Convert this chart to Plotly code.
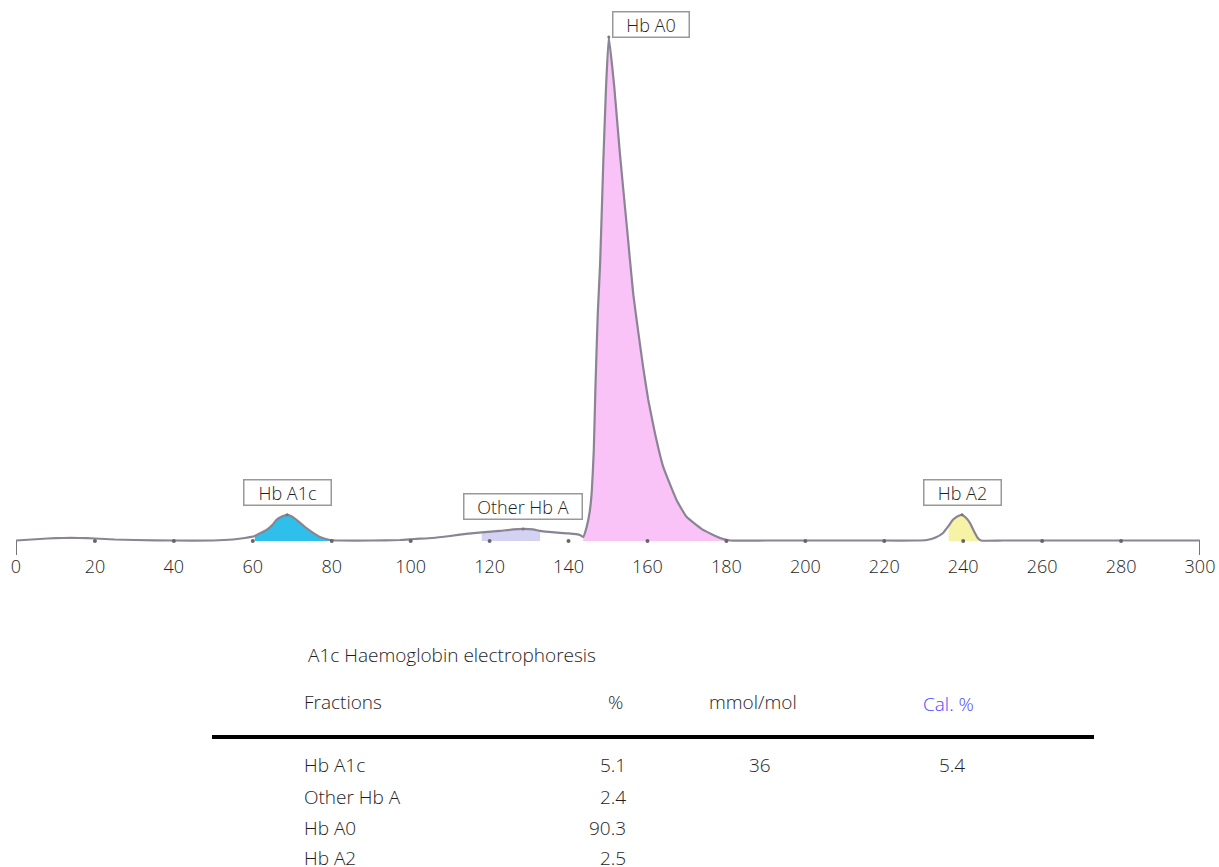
import plotly.graph_objects as go

# ---------------- data ----------------
# electropherogram trace (migration position, relative absorbance with Hb A0 peak = 100)
trace_x = [0, 4, 8, 12, 16, 20, 25, 30, 40, 50, 55, 58, 60.5, 62, 63.5, 65, 66, 67.5, 68.7, 70, 72, 73.5, 75.3, 77, 79.6,
           82, 90, 97.3, 101, 105.6, 110, 114, 118, 122.6, 126, 128.5, 131, 132.8, 135, 137.8, 140, 142.9,
           143.7, 144.6, 145.4, 145.9, 146.4, 146.8, 147.4, 148.0, 148.8, 149.5, 150.2, 151.6, 153.0, 154.7, 156.4,
           157.7, 158.9, 160.2, 161.9, 164.0, 167.4, 169.9, 174.1, 178.4, 181.0,
           190, 200, 210, 220, 228, 230.8, 233, 234.9, 236.3, 237.4, 238.6, 239.7, 240.7, 241.7, 242.7, 243.7, 244.5,
           250, 260, 270, 280, 290, 300]
trace_y = [0.1, 0.3, 0.5, 0.6, 0.6, 0.5, 0.3, 0.2, 0.1, 0.1, 0.3, 0.6, 1.0, 1.6, 2.2, 3.2, 4.2, 4.9, 5.2, 4.8, 3.6, 2.6, 1.6, 0.8, 0.2,
           0.1, 0.1, 0.2, 0.4, 0.6, 1.0, 1.4, 1.7, 2.0, 2.3, 2.4, 2.3, 2.0, 1.8, 1.6, 1.5, 1.2,
           0.8, 2.8, 6.0, 10.0, 18.0, 30.0, 45.0, 55.0, 75.0, 90.0, 100.0, 90.0, 77.0, 63.0, 49.0,
           41.3, 34.5, 28.0, 21.4, 14.7, 8.1, 4.8, 2.2, 0.6, 0.1,
           0.1, 0.1, 0.1, 0.1, 0.1, 0.2, 0.7, 1.6, 3.0, 4.2, 4.9, 5.2, 4.6, 3.6, 2.0, 0.6, 0.1,
           0.1, 0.1, 0.1, 0.1, 0.1, 0.1]

fractions = ["Hb A1c", "Other Hb A", "Hb A0", "Hb A2"]
frac_start = [60.5, 118.0, 143.7, 236.3]
frac_end = [79.6, 132.8, 181.0, 244.5]
frac_peak_x = [68.7, 128.5, 150.2, 239.7]
frac_peak_y = [5.2, 2.4, 100.0, 5.2]
frac_fill = ["#2ec0ea", "#d4d2f2", "#f9c3f7", "#f6f3a6"]

frac_percent = ["5.1", "2.4", "90.3", "2.5"]
frac_mmol = ["36", "", "", ""]
frac_cal = ["5.4", "", "", ""]

tick_vals = list(range(0, 301, 20))
x_range = [0, 300]

# ---------------- figure ----------------
W, H = 1219, 867
ML, MR, MT, MB = 16, 19, 10, 321
PW, PH = W - ML - MR, H - MT - MB
FONT = "Open Sans, Noto Sans, sans-serif"
TXT = "#1e1e1e"

def px_x(px):
    return (px - ML) / PW

def px_y(py):
    return (H - MB - py) / PH

fig = go.Figure()

LINE_SHAPE = dict(shape="spline", smoothing=0.4)

# filled fractions
for name, s, e, col in zip(fractions, frac_start, frac_end, frac_fill):
    xs = [x for x in trace_x if s <= x <= e]
    ys = [y for x, y in zip(trace_x, trace_y) if s <= x <= e]
    fig.add_trace(go.Scatter(x=xs, y=ys, mode="lines", fill="tozeroy", fillcolor=col,
                             line=dict(width=0, **LINE_SHAPE), hoverinfo="skip", showlegend=False))

# full trace
fig.add_trace(go.Scatter(x=trace_x, y=trace_y, mode="lines",
                         line=dict(color="#8a8494", width=2.2, **LINE_SHAPE),
                         hoverinfo="skip", showlegend=False))

# small tick dots on baseline
fig.add_trace(go.Scatter(x=tick_vals[1:-1], y=[0] * (len(tick_vals) - 2), mode="markers",
                         marker=dict(color="#666666", size=4), hoverinfo="skip", showlegend=False))

# peak label dots
fig.add_trace(go.Scatter(x=frac_peak_x, y=frac_peak_y, mode="markers",
                         marker=dict(color="#777777", size=3), hoverinfo="skip", showlegend=False,
                         cliponaxis=False))

# peak labels (box widths in px)
label_w = [84, 115, 73, 74]
for name, px_, py_, lw in zip(fractions, frac_peak_x, frac_peak_y, label_w):
    common = dict(x=px_, y=py_, text=name, showarrow=False, yanchor="bottom",
                  font=dict(family=FONT, size=18, color=TXT, weight=300),
                  bgcolor="white", bordercolor="#999999", borderwidth=1.5, borderpad=1,
                  width=lw, height=22, align="center")
    if name == "Hb A0":
        fig.add_annotation(xanchor="left", xshift=3, yshift=-1, **common)
    else:
        fig.add_annotation(xanchor="center", yshift=9, **common)

# end ticks of the axis
base_paper = px_y(541)
for xv in (x_range[0], x_range[1]):
    fig.add_shape(type="line", xref="x", yref="paper", x0=xv, x1=xv, y0=base_paper, y1=px_y(555),
                  line=dict(color="#777777", width=2))

# ---------------- table ----------------
def txt(text, x, y, anchor="left", color=TXT, size=19):
    fig.add_annotation(xref="paper", yref="paper", x=px_x(x), y=px_y(y), text=text, showarrow=False,
                       xanchor=anchor, yanchor="middle",
                       font=dict(family=FONT, size=size, color=color, weight=300))

txt("A1c Haemoglobin electrophoresis", 306, 655)
txt("Fractions", 302, 702)
txt("%", 615, 702, "center")
txt("mmol/mol", 753, 702, "center")
txt("Cal. %", 948, 704, "center", color="#4848ff")

fig.add_shape(type="line", xref="paper", yref="paper", x0=px_x(212), x1=px_x(1094),
              y0=px_y(737), y1=px_y(737), line=dict(color="black", width=4))

row_y = [765, 797, 828, 858]
for name, pc, mm, cal, ry in zip(fractions, frac_percent, frac_mmol, frac_cal, row_y):
    txt(name, 302, ry)
    txt(pc, 628, ry, "right")
    if mm:
        txt(mm, 760, ry, "center")
    if cal:
        txt(cal, 952, ry, "center")

fig.update_layout(
    width=W, height=H,
    margin=dict(l=ML, r=MR, t=MT, b=MB, autoexpand=False),
    paper_bgcolor="white", plot_bgcolor="white",
    font=dict(family=FONT, color=TXT),
    xaxis=dict(range=x_range, tickvals=tick_vals, ticktext=[str(v) for v in tick_vals],
               showgrid=False, zeroline=False, showline=False, ticks="", automargin=False,
               tickfont=dict(family=FONT, size=18, color=TXT, weight=300), ticklabelstandoff=8),
    yaxis=dict(range=[-0.99, 105.36], visible=False, showgrid=False, zeroline=False, automargin=False),
)

fig.write_html("out.html")
